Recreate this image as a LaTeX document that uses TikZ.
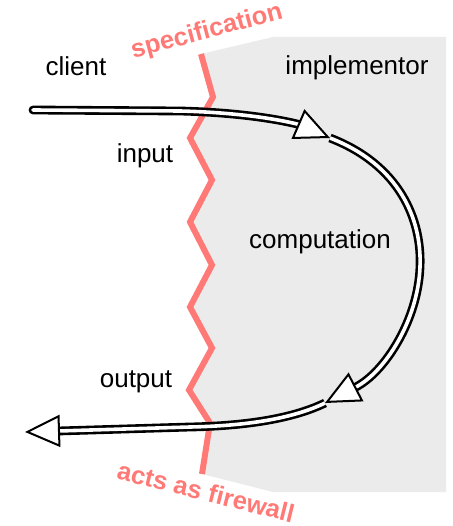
\documentclass[tikz,border=0pt]{standalone}
\usepackage{fontspec}
\setmainfont{Liberation Sans}
\usetikzlibrary{
    arrows.meta
}
\definecolor{firewall}{RGB}{255,122,118}
\definecolor{fondo}{RGB}{235,235,235}
\tikzset{
    >={Triangle[length=35pt, width=32pt, fill=white, line width=2pt]},
    flujo/.style={
        draw=black,
        line width=2.6pt,
        double=white,
        double distance=3.6pt
    },
    etiqueta/.style={
        font=\fontsize{26}{30}\selectfont,
        anchor=base,
        inner sep=0pt
    },
    aviso/.style={
        font=\fontsize{25.5}{30}\selectfont\bfseries,
        text=firewall,
        inner sep=0pt
    }
}

\begin{document}
\begin{tikzpicture}[
    x=1pt,
    y=-1pt
]
    \useasboundingbox (0,0) rectangle (452,526);

    % Implementador
    \fill[fondo] (201,54) -- (273,37) -- (446,37) -- (446,492) -- (273,492)
        -- (202,474) -- (210,423) -- (189,390) -- (212,348) -- (190,307)
        -- (212,265) -- (190,222) -- (212,180) -- (190,138) -- (213,97) -- cycle;

    % Especificacion
    \draw[firewall, line width=6pt, line join=miter]
        (201,54) -- (213,97) -- (190,138) -- (212,180) -- (190,222)
        -- (212,265) -- (190,307) -- (212,348) -- (189,390) -- (210,423)
        -- (202,474);

    % Recorrido
    \coordinate (inicio)  at (33,110);
    \coordinate (entrada) at (330,138);
    \coordinate (salida)  at (325,403);
    \coordinate (fin)     at (25,432);

    \draw[flujo, ->] (salida)
        .. controls (290,420) and (240,426) .. (190,427) -- (fin);
    \draw[flujo, ->] (entrada)
        .. controls (400,165) and (422,220) .. (420,267)
        .. controls (418,320) and (385,372) .. (salida);
    \draw[flujo, line cap=round, ->] (inicio) -- (180,111)
        .. controls (260,113) and (300,125) .. (entrada);

    % Textos
    \node[etiqueta] (client) at (76,76)   {client};
    \node[etiqueta] (impl)   at (357,75)  {implementor};
    \node[etiqueta] (input)  at (145,163) {input};
    \node[etiqueta] (comp)   at (320,248) {computation};
    \node[etiqueta] (output) at (136,387) {output};

    \node[aviso, rotate=15]  (espec) at (207,32)  {specification};
    \node[aviso, rotate=-14] (muro)  at (206,492) {acts as firewall};

\end{tikzpicture}
\end{document}
